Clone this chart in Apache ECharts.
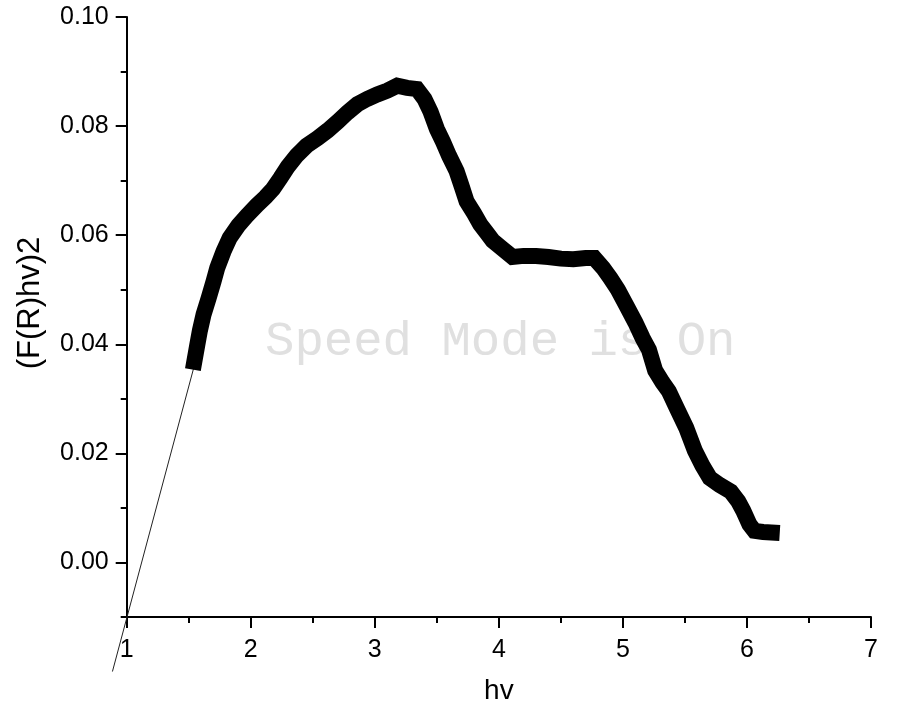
<!DOCTYPE html>
<html>
<head>
<meta charset="utf-8">
<script src="https://cdn.jsdelivr.net/npm/echarts@6/dist/echarts.min.js"></script>
<style>
html,body{margin:0;padding:0;background:#fff;}
#chart{width:900px;height:713px;}
</style>
</head>
<body>
<div id="chart"></div>
<script>
// Main curve: hv (x) and (F(R)hv)^2 (y)
const hvValues = [1.545,1.57,1.59,1.62,1.66,1.70,1.73,1.78,1.83,1.90,1.97,2.05,2.12,2.18,2.24,2.30,2.37,2.45,2.54,2.62,2.70,2.78,2.86,2.94,3.02,3.10,3.18,3.26,3.34,3.40,3.45,3.50,3.55,3.60,3.66,3.70,3.74,3.80,3.85,3.90,3.95,4.03,4.11,4.20,4.30,4.40,4.50,4.60,4.70,4.77,4.84,4.90,4.96,5.03,5.10,5.16,5.21,5.26,5.32,5.37,5.44,5.51,5.58,5.64,5.70,5.78,5.87,5.93,5.97,6.02,6.06,6.13,6.20];
const frValues = [0.0368,0.0400,0.0425,0.0455,0.0484,0.0515,0.0540,0.0570,0.0595,0.0618,0.0636,0.0655,0.0670,0.0685,0.0705,0.0726,0.0746,0.0764,0.0778,0.0792,0.0808,0.0825,0.0840,0.0850,0.0858,0.0865,0.0874,0.0870,0.0868,0.0850,0.0826,0.0795,0.0771,0.0745,0.0717,0.0690,0.0662,0.0640,0.0620,0.0605,0.0590,0.0575,0.0560,0.0562,0.0562,0.0560,0.0557,0.0556,0.0558,0.0558,0.0540,0.0521,0.0500,0.0470,0.0440,0.0411,0.0390,0.0352,0.0330,0.0314,0.0280,0.0247,0.0205,0.0178,0.0155,0.0142,0.0130,0.0112,0.0095,0.0070,0.0058,0.0056,0.0055];
// Tangent (Tauc) line endpoints
const tangentX = [0.885, 1.55];
const tangentY = [-0.0200, 0.0365];
// Axis ticks
const yMajorTicks = [0, 0.02, 0.04, 0.06, 0.08, 0.10];
const yMinorTicks = [-0.01, 0.01, 0.03, 0.05, 0.07, 0.09];
const xAxisName = 'hv';
const yAxisName = '(F(R)hv)2';
const watermark = 'Speed Mode is On';

const curveData = hvValues.map((v, i) => [v, frValues[i]]);
const tangentData = tangentX.map((v, i) => [v, tangentY[i]]);

const font = "'Liberation Sans', Arial, sans-serif";
// main plot area
const G = {left: 126.7, right: 29, top: 17, bottom: 96};
const xMin = 1, xMax = 7, yMin = -0.01, yMax = 0.10;
// a hidden, larger grid with identical scale so the tangent line can run past the axes
const pxX = (900 - G.left - G.right) / (xMax - xMin);
const pxY = (713 - G.top - G.bottom) / (yMax - yMin);
const x2Min = 0.88, y2Min = -0.0205;
const G2 = {left: G.left - (xMin - x2Min) * pxX, right: G.right, top: G.top,
            bottom: G.bottom - (yMin - y2Min) * pxY};

const chart = echarts.init(document.getElementById('chart'));
chart.setOption({
  animation: false,
  backgroundColor: '#fff',
  grid: [Object.assign({containLabel: false}, G), Object.assign({containLabel: false}, G2)],
  xAxis: [{
    gridIndex: 0, type: 'value', min: xMin, max: xMax, interval: 1,
    name: xAxisName, nameLocation: 'middle', nameGap: 60,
    nameTextStyle: {fontFamily: font, fontSize: 28, color: '#000'},
    axisLine: {show: true, onZero: false, lineStyle: {color: '#000', width: 2}},
    axisTick: {show: true, inside: false, length: 11, lineStyle: {color: '#000', width: 2}},
    minorTick: {show: true, splitNumber: 2, length: 6, lineStyle: {color: '#000', width: 2}},
    axisLabel: {fontFamily: font, fontSize: 25, color: '#000', margin: 21},
    splitLine: {show: false}, minorSplitLine: {show: false}
  }, {
    gridIndex: 1, type: 'value', min: x2Min, max: xMax, show: false
  }],
  yAxis: [{
    gridIndex: 0, type: 'value', min: yMin, max: yMax,
    axisLine: {show: true, onZero: false, lineStyle: {color: '#000', width: 2}},
    axisTick: {show: true, inside: false, length: 11, customValues: yMajorTicks, lineStyle: {color: '#000', width: 2}},
    axisLabel: {fontFamily: font, fontSize: 25, color: '#000', margin: 18, customValues: yMajorTicks,
      formatter: v => Number(v).toFixed(2)},
    splitLine: {show: false}
  }, {
    gridIndex: 0, type: 'value', min: yMin, max: yMax, position: 'left',
    axisLine: {show: false},
    axisTick: {show: true, inside: false, length: 6, customValues: yMinorTicks, lineStyle: {color: '#000', width: 2}},
    axisLabel: {show: false},
    splitLine: {show: false}
  }, {
    gridIndex: 1, type: 'value', min: y2Min, max: yMax, show: false
  }],
  graphic: [{
    type: 'text', left: 265, top: 318, z: -1, silent: true,
    style: {text: watermark, fontFamily: "'Liberation Mono', 'Courier New', monospace", fontSize: 49, fill: '#e0e0e0'}
  }, {
    type: 'text', x: 30, y: 303, rotation: Math.PI / 2,
    style: {text: yAxisName, fontFamily: font, fontSize: 31, fill: '#000', align: 'center', verticalAlign: 'middle'}
  }],
  series: [{
    type: 'line', data: tangentData, xAxisIndex: 1, yAxisIndex: 2, clip: false, symbol: 'none',
    lineStyle: {color: '#222', width: 1}, z: 3
  }, {
    type: 'line', data: curveData, xAxisIndex: 0, yAxisIndex: 0, symbol: 'none', clip: false,
    lineStyle: {color: '#000', width: 16, cap: 'square', join: 'miter'}, z: 4
  }]
});
</script>
</body>
</html>
